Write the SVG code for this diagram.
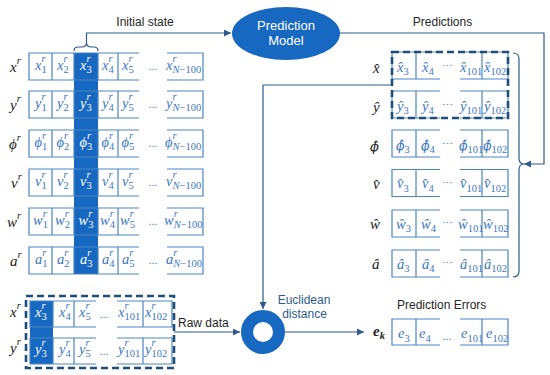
<svg xmlns="http://www.w3.org/2000/svg" width="550" height="375" viewBox="0 0 550 375">
<defs>
<marker id="arr" viewBox="0 0 10 10" refX="10" refY="5" markerWidth="7" markerHeight="7" markerUnits="userSpaceOnUse" orient="auto"><path d="M0,0 L10,5 L0,10 Z" fill="#2e5b8a"/></marker>
<style>
.bg{fill:#fff}
.cell{fill:none;stroke:#4a86c4;stroke-width:1.2}
.hl{fill:#1668c1}
.dash{fill:none;stroke:#1f4e79;stroke-width:2.6;stroke-dasharray:7 4}
.con{fill:none;stroke:#2e5b8a;stroke-width:1.2}
.m{font-family:"Liberation Serif",serif;font-style:italic;font-size:14.5px;fill:#3a78bf}
.w{fill:#fff}
.s{font-size:10.5px}
.u{font-style:normal}
.dots{font-family:"Liberation Sans",sans-serif;font-size:11px;fill:#3a78bf;text-anchor:middle}
.lab{font-family:"Liberation Serif",serif;font-style:italic;font-size:15px;fill:#222}
.dj{font-family:"DejaVu Serif",serif;font-size:12.5px}
.t{font-family:"Liberation Sans",sans-serif;font-size:12px;fill:#262626}
.eu{font-family:"Liberation Sans",sans-serif;font-size:12px;fill:#2b5d8e;text-anchor:middle}
.mt{font-family:"Liberation Sans",sans-serif;font-size:13px;fill:#fff;text-anchor:middle}
</style>
</defs>
<rect class="bg" width="550" height="375"/>

<g id="connectors">
<path class="con" d="M74,51 Q74,47 78,47 H82 Q86,47 86.5,43 Q87,47 91,47 H94 Q98,47 98,51"/>
<path class="con" d="M86.5,43 V33 H231" marker-end="url(#arr)"/>
<path class="con" d="M340,33 H544 V164 H524" marker-end="url(#arr)"/>
<path class="con" d="M513,53 Q519,53 519,59 V158 Q519,164 524,164 Q519,164 519,170 V271 Q519,277 513,277"/>
<path class="con" d="M392,85 H263 V309" marker-end="url(#arr)"/>
<path class="con" d="M174,332 H240" marker-end="url(#arr)"/>
<path class="con" d="M285,332 H364" marker-end="url(#arr)"/>
</g>

<g id="initial-state-label"><text class="t" x="145" y="26" text-anchor="middle" font-size="12.5">Initial state</text></g>
<g id="predictions-label"><text class="t" x="442.5" y="26" text-anchor="middle">Predictions</text></g>

<g id="prediction-model">
<ellipse cx="286" cy="33.5" rx="54" ry="26.5" fill="#1668c1"/>
<text class="mt" x="286" y="30">Prediction</text>
<text class="mt" x="286" y="45">Model</text>
</g>

<g id="euclidean-distance">
<circle cx="263" cy="332" r="16" fill="none" stroke="#1668c1" stroke-width="12"/>
<text class="eu" x="304" y="304">Euclidean</text>
<text class="eu" x="304.5" y="318">distance</text>
</g>

<g id="state-table">
<rect class="hl" x="74" y="53" width="24" height="221"/>
<!-- row x -->
<text class="lab" x="10" y="72">x<tspan class="s" dy="-8">r</tspan></text>
<path class="cell" d="M139,53 H29 V80 H139 M167,53 H203 V80 H167 M52,53 V80 M74,53 V80 M98,53 V80 M118,53 V80"/>
<text class="m" x="35" y="69.5">x<tspan class="s" dy="-8">r</tspan><tspan class="s u" dx="-4" dy="11">1</tspan></text>
<text class="m" x="57" y="69.5">x<tspan class="s" dy="-8">r</tspan><tspan class="s u" dx="-4" dy="11">2</tspan></text>
<text class="m w" x="80" y="69.5">x<tspan class="s" dy="-8">r</tspan><tspan class="s u" dx="-4" dy="11">3</tspan></text>
<text class="m" x="102" y="69.5">x<tspan class="s" dy="-8">r</tspan><tspan class="s u" dx="-4" dy="11">4</tspan></text>
<text class="m" x="122" y="69.5">x<tspan class="s" dy="-8">r</tspan><tspan class="s u" dx="-4" dy="11">5</tspan></text>
<text class="dots" x="153" y="70">...</text>
<text class="m" x="166" y="69.5">x<tspan class="s" dy="-8">r</tspan><tspan class="s" dx="-4" dy="11">N</tspan><tspan class="s u">−100</tspan></text>
<!-- row y -->
<text class="lab" x="10" y="110">y<tspan class="s" dy="-8">r</tspan></text>
<path class="cell" d="M139,91 H29 V118 H139 M167,91 H203 V118 H167 M52,91 V118 M74,91 V118 M98,91 V118 M118,91 V118"/>
<text class="m" x="35" y="107.5">y<tspan class="s" dy="-8">r</tspan><tspan class="s u" dx="-4" dy="11">1</tspan></text>
<text class="m" x="57" y="107.5">y<tspan class="s" dy="-8">r</tspan><tspan class="s u" dx="-4" dy="11">2</tspan></text>
<text class="m w" x="80" y="107.5">y<tspan class="s" dy="-8">r</tspan><tspan class="s u" dx="-4" dy="11">3</tspan></text>
<text class="m" x="102" y="107.5">y<tspan class="s" dy="-8">r</tspan><tspan class="s u" dx="-4" dy="11">4</tspan></text>
<text class="m" x="122" y="107.5">y<tspan class="s" dy="-8">r</tspan><tspan class="s u" dx="-4" dy="11">5</tspan></text>
<text class="dots" x="153" y="108">...</text>
<text class="m" x="166" y="107.5">y<tspan class="s" dy="-8">r</tspan><tspan class="s" dx="-4" dy="11">N</tspan><tspan class="s u">−100</tspan></text>
<!-- row phi -->
<text class="lab" x="9" y="149">ϕ<tspan class="s" dy="-8">r</tspan></text>
<path class="cell" d="M139,130 H29 V157 H139 M167,130 H203 V157 H167 M52,130 V157 M74,130 V157 M98,130 V157 M118,130 V157"/>
<text class="m" x="34.5" y="146.5">ϕ<tspan class="s" dy="-8">r</tspan><tspan class="s u" dx="-4" dy="11">1</tspan></text>
<text class="m" x="56.5" y="146.5">ϕ<tspan class="s" dy="-8">r</tspan><tspan class="s u" dx="-4" dy="11">2</tspan></text>
<text class="m w" x="79.5" y="146.5">ϕ<tspan class="s" dy="-8">r</tspan><tspan class="s u" dx="-4" dy="11">3</tspan></text>
<text class="m" x="101.5" y="146.5">ϕ<tspan class="s" dy="-8">r</tspan><tspan class="s u" dx="-4" dy="11">4</tspan></text>
<text class="m" x="121.5" y="146.5">ϕ<tspan class="s" dy="-8">r</tspan><tspan class="s u" dx="-4" dy="11">5</tspan></text>
<text class="dots" x="153" y="147">...</text>
<text class="m" x="165" y="146.5">ϕ<tspan class="s" dy="-8">r</tspan><tspan class="s" dx="-4" dy="11">N</tspan><tspan class="s u">−100</tspan></text>
<!-- row v -->
<text class="lab" x="11" y="188">v<tspan class="s" dy="-8">r</tspan></text>
<path class="cell" d="M139,169 H29 V196 H139 M167,169 H203 V196 H167 M52,169 V196 M74,169 V196 M98,169 V196 M118,169 V196"/>
<text class="m" x="35" y="185.5">v<tspan class="s" dy="-8">r</tspan><tspan class="s u" dx="-4" dy="11">1</tspan></text>
<text class="m" x="57" y="185.5">v<tspan class="s" dy="-8">r</tspan><tspan class="s u" dx="-4" dy="11">2</tspan></text>
<text class="m w" x="80" y="185.5">v<tspan class="s" dy="-8">r</tspan><tspan class="s u" dx="-4" dy="11">3</tspan></text>
<text class="m" x="102" y="185.5">v<tspan class="s" dy="-8">r</tspan><tspan class="s u" dx="-4" dy="11">4</tspan></text>
<text class="m" x="122" y="185.5">v<tspan class="s" dy="-8">r</tspan><tspan class="s u" dx="-4" dy="11">5</tspan></text>
<text class="dots" x="153" y="186">...</text>
<text class="m" x="166" y="185.5">v<tspan class="s" dy="-8">r</tspan><tspan class="s" dx="-4" dy="11">N</tspan><tspan class="s u">−100</tspan></text>
<!-- row w -->
<text class="lab" x="7" y="227">w<tspan class="s" dy="-8">r</tspan></text>
<path class="cell" d="M139,208 H29 V235 H139 M167,208 H203 V235 H167 M52,208 V235 M74,208 V235 M98,208 V235 M118,208 V235"/>
<text class="m" x="33" y="224.5">w<tspan class="s" dy="-8">r</tspan><tspan class="s u" dx="-4" dy="11">1</tspan></text>
<text class="m" x="55" y="224.5">w<tspan class="s" dy="-8">r</tspan><tspan class="s u" dx="-4" dy="11">2</tspan></text>
<text class="m w" x="78.5" y="224.5">w<tspan class="s" dy="-8">r</tspan><tspan class="s u" dx="-4" dy="11">3</tspan></text>
<text class="m" x="100" y="224.5">w<tspan class="s" dy="-8">r</tspan><tspan class="s u" dx="-4" dy="11">4</tspan></text>
<text class="m" x="120" y="224.5">w<tspan class="s" dy="-8">r</tspan><tspan class="s u" dx="-4" dy="11">5</tspan></text>
<text class="dots" x="153" y="225">...</text>
<text class="m" x="164" y="224.5">w<tspan class="s" dy="-8">r</tspan><tspan class="s" dx="-4" dy="11">N</tspan><tspan class="s u">−100</tspan></text>
<!-- row a -->
<text class="lab" x="10" y="266">a<tspan class="s" dy="-8">r</tspan></text>
<path class="cell" d="M139,247 H29 V274 H139 M167,247 H203 V274 H167 M52,247 V274 M74,247 V274 M98,247 V274 M118,247 V274"/>
<text class="m" x="35" y="263.5">a<tspan class="s" dy="-8">r</tspan><tspan class="s u" dx="-4" dy="11">1</tspan></text>
<text class="m" x="57" y="263.5">a<tspan class="s" dy="-8">r</tspan><tspan class="s u" dx="-4" dy="11">2</tspan></text>
<text class="m w" x="80" y="263.5">a<tspan class="s" dy="-8">r</tspan><tspan class="s u" dx="-4" dy="11">3</tspan></text>
<text class="m" x="102" y="263.5">a<tspan class="s" dy="-8">r</tspan><tspan class="s u" dx="-4" dy="11">4</tspan></text>
<text class="m" x="122" y="263.5">a<tspan class="s" dy="-8">r</tspan><tspan class="s u" dx="-4" dy="11">5</tspan></text>
<text class="dots" x="153" y="264">...</text>
<text class="m" x="166" y="263.5">a<tspan class="s" dy="-8">r</tspan><tspan class="s" dx="-4" dy="11">N</tspan><tspan class="s u">−100</tspan></text>
</g>

<g id="raw-data">
<rect class="hl" x="30" y="301" width="23" height="63"/>
<text class="lab" x="10" y="317">x<tspan class="s" dy="-8">r</tspan></text>
<path class="cell" d="M96,301 H30 V327 H96 M117,301 H172 V327 H117 M53,301 V327 M74,301 V327 M143,301 V327"/>
<text class="m w" x="35" y="317">x<tspan class="s" dy="-8">r</tspan><tspan class="s u" dx="-4" dy="11">3</tspan></text>
<text class="m" x="59" y="317">x<tspan class="s" dy="-8">r</tspan><tspan class="s u" dx="-4" dy="11">4</tspan></text>
<text class="m" x="79" y="317">x<tspan class="s" dy="-8">r</tspan><tspan class="s u" dx="-4" dy="11">5</tspan></text>
<text class="dots" x="104" y="318">...</text>
<text class="m" x="118" y="317">x<tspan class="s" dy="-8">r</tspan><tspan class="s u" dx="-4" dy="11">101</tspan></text>
<text class="m" x="145" y="317">x<tspan class="s" dy="-8">r</tspan><tspan class="s u" dx="-4" dy="11">102</tspan></text>
<text class="lab" x="10" y="353">y<tspan class="s" dy="-8">r</tspan></text>
<path class="cell" d="M96,338 H30 V364 H96 M117,338 H172 V364 H117 M53,338 V364 M74,338 V364 M143,338 V364"/>
<text class="m w" x="35" y="354">y<tspan class="s" dy="-8">r</tspan><tspan class="s u" dx="-4" dy="11">3</tspan></text>
<text class="m" x="59" y="354">y<tspan class="s" dy="-8">r</tspan><tspan class="s u" dx="-4" dy="11">4</tspan></text>
<text class="m" x="79" y="354">y<tspan class="s" dy="-8">r</tspan><tspan class="s u" dx="-4" dy="11">5</tspan></text>
<text class="dots" x="104" y="355">...</text>
<text class="m" x="118" y="354">y<tspan class="s" dy="-8">r</tspan><tspan class="s u" dx="-4" dy="11">101</tspan></text>
<text class="m" x="145" y="354">y<tspan class="s" dy="-8">r</tspan><tspan class="s u" dx="-4" dy="11">102</tspan></text>
<rect class="dash" x="26" y="296" width="148" height="72"/>
<text class="t" x="178" y="327">Raw data</text>
</g>

<g id="predictions-table">
<!-- x hat -->
<text class="lab" x="373" y="73">x̂</text>
<path class="cell" d="M440,52 H392 V79 H440 M460,52 H508 V79 H460 M416,52 V79 M482,52 V79"/>
<text class="m" x="397" y="71.5">x̂<tspan class="s u" dy="3.5">3</tspan></text>
<text class="m" x="422" y="71.5">x̂<tspan class="s u" dy="3.5">4</tspan></text>
<text class="dots" x="447" y="70">⋯</text>
<text class="m" x="460" y="71.5">x̂<tspan class="s u" dy="3.5">101</tspan></text>
<text class="m" x="484" y="71.5">x̂<tspan class="s u" dy="3.5">102</tspan></text>
<!-- y hat -->
<text class="lab" x="373" y="112">ŷ</text>
<path class="cell" d="M440,91 H392 V118 H440 M460,91 H508 V118 H460 M416,91 V118 M482,91 V118"/>
<text class="m" x="397" y="110.5">ŷ<tspan class="s u" dy="3.5">3</tspan></text>
<text class="m" x="422" y="110.5">ŷ<tspan class="s u" dy="3.5">4</tspan></text>
<text class="dots" x="447" y="109">⋯</text>
<text class="m" x="460" y="110.5">ŷ<tspan class="s u" dy="3.5">101</tspan></text>
<text class="m" x="484" y="110.5">ŷ<tspan class="s u" dy="3.5">102</tspan></text>
<rect class="dash" x="392" y="52" width="116" height="66"/>
<!-- phi hat -->
<text class="lab" x="370" y="151"><tspan class="dj" style="font-size:13px">ϕ̂</tspan></text>
<path class="cell" d="M440,130 H392 V157 H440 M460,130 H508 V157 H460 M416,130 V157 M482,130 V157"/>
<text class="m" x="396" y="149.5"><tspan class="dj">ϕ̂</tspan><tspan class="s u" dy="3.5">3</tspan></text>
<text class="m" x="421" y="149.5"><tspan class="dj">ϕ̂</tspan><tspan class="s u" dy="3.5">4</tspan></text>
<text class="dots" x="447" y="148">⋯</text>
<text class="m" x="459" y="149.5"><tspan class="dj">ϕ̂</tspan><tspan class="s u" dy="3.5">101</tspan></text>
<text class="m" x="483" y="149.5"><tspan class="dj">ϕ̂</tspan><tspan class="s u" dy="3.5">102</tspan></text>
<!-- v hat -->
<text class="lab" x="373" y="189">v̂</text>
<path class="cell" d="M440,169.5 H392 V196.5 H440 M460,169.5 H508 V196.5 H460 M416,169.5 V196.5 M482,169.5 V196.5"/>
<text class="m" x="397" y="188">v̂<tspan class="s u" dy="3.5">3</tspan></text>
<text class="m" x="422" y="188">v̂<tspan class="s u" dy="3.5">4</tspan></text>
<text class="dots" x="447" y="187">⋯</text>
<text class="m" x="460" y="188">v̂<tspan class="s u" dy="3.5">101</tspan></text>
<text class="m" x="484" y="188">v̂<tspan class="s u" dy="3.5">102</tspan></text>
<!-- w hat -->
<text class="lab" x="370" y="229">ŵ</text>
<path class="cell" d="M440,210 H392 V237 H440 M460,210 H508 V237 H460 M416,210 V237 M482,210 V237"/>
<text class="m" x="396" y="228.5">ŵ<tspan class="s u" dy="3.5">3</tspan></text>
<text class="m" x="421" y="228.5">ŵ<tspan class="s u" dy="3.5">4</tspan></text>
<text class="dots" x="447" y="227">⋯</text>
<text class="m" x="458" y="228.5">ŵ<tspan class="s u" dy="3.5">101</tspan></text>
<text class="m" x="483" y="228.5">ŵ<tspan class="s u" dy="3.5">102</tspan></text>
<!-- a hat -->
<text class="lab" x="372" y="269">â</text>
<path class="cell" d="M440,250 H392 V277 H440 M460,250 H508 V277 H460 M416,250 V277 M482,250 V277"/>
<text class="m" x="397" y="268.5">â<tspan class="s u" dy="3.5">3</tspan></text>
<text class="m" x="422" y="268.5">â<tspan class="s u" dy="3.5">4</tspan></text>
<text class="dots" x="447" y="267">⋯</text>
<text class="m" x="460" y="268.5">â<tspan class="s u" dy="3.5">101</tspan></text>
<text class="m" x="484" y="268.5">â<tspan class="s u" dy="3.5">102</tspan></text>
</g>

<g id="prediction-errors">
<text class="t" x="397" y="309">Prediction Errors</text>
<text class="lab" x="373" y="336" font-weight="bold" font-size="14">e<tspan class="s" dy="3">k</tspan></text>
<path class="cell" d="M440,319 H392 V345 H440 M460,319 H508 V345 H460 M416,319 V345 M482,319 V345"/>
<text class="m" x="398" y="338">e<tspan class="s u" dy="3.5">3</tspan></text>
<text class="m" x="419" y="338">e<tspan class="s u" dy="3.5">4</tspan></text>
<text class="dots" x="447" y="340">...</text>
<text class="m" x="461" y="338">e<tspan class="s u" dy="3.5">101</tspan></text>
<text class="m" x="486" y="338">e<tspan class="s u" dy="3.5">102</tspan></text>
</g>
</svg>
